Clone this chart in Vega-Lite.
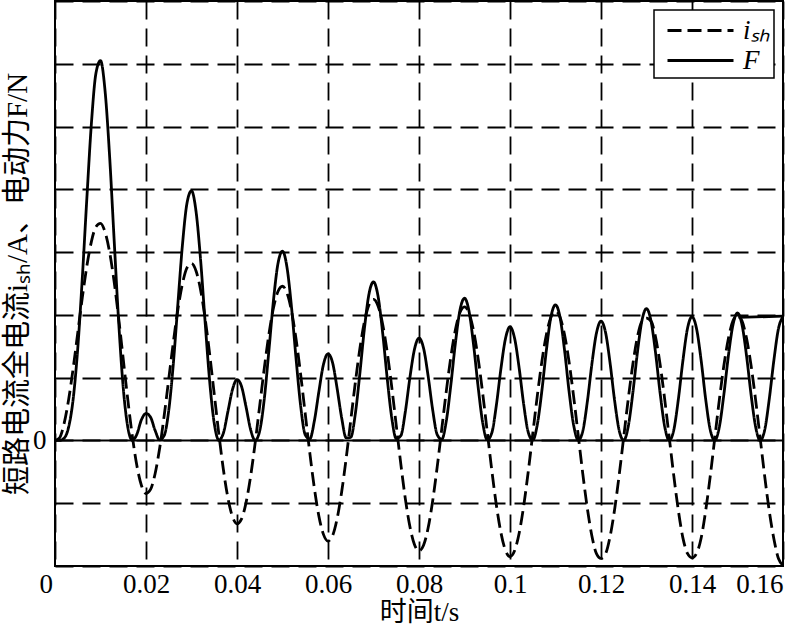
{
 "$schema": "https://vega.github.io/schema/vega-lite/v6.json",
 "width": 728, "height": 565,
 "autosize": {"type": "none"},
 "padding": {"left": 55, "top": 1, "right": 21, "bottom": 66},
 "background": "white",
 "config": {
  "font": "'Liberation Serif', 'Times New Roman', 'Noto Sans CJK SC', serif",
  "view": {"stroke": "black", "strokeWidth": 2},
  "axis": {"labelColor": "black", "titleColor": "black", "labelFontSize": 27, "titleFontSize": 27, "titleFontWeight": "normal", "ticks": false, "domain": false, "grid": true, "gridColor": "black", "gridDash": [18, 9], "gridWidth": 1.8, "gridOpacity": 1},
  "legend": {"orient": "top-right", "offset": 9, "strokeColor": "black", "strokeWidth": 1.5, "fillColor": "white", "padding": 4, "symbolType": "M-2.2,0H2.2", "symbolSize": 900, "symbolOffset": 26, "symbolStrokeWidth": 2.8, "symbolStrokeColor": "black", "symbolFillColor": "transparent", "labelFontSize": 27, "labelFontStyle": "italic", "labelColor": "black", "rowPadding": 0, "labelOffset": 26}
 },
 "layer": [
  {
   "data": {"values": [{}]},
   "mark": {"type": "rule", "color": "black", "strokeWidth": 2},
   "encoding": {"y": {"datum": 0, "type": "quantitative"}}
  },
  {
   "data": {"values": [
    {"t":0,"i":0,"F":0},{"t":0.001,"i":0.042,"F":0.001},{"t":0.002,"i":0.269,"F":0.036},{"t":0.003,"i":0.653,"F":0.213},{"t":0.004,"i":1.152,"F":0.664},{"t":0.005,"i":1.713,"F":1.467},{"t":0.006,"i":2.274,"F":2.586},{"t":0.007,"i":2.777,"F":3.857},{"t":0.008,"i":3.168,"F":5.050},{"t":0.009,"i":3.405,"F":5.850},
    {"t":0.010,"i":3.459,"F":6.050},{"t":0.011,"i":3.321,"F":5.570},{"t":0.012,"i":3.001,"F":4.530},{"t":0.013,"i":2.527,"F":3.192},{"t":0.014,"i":1.940,"F":1.881},{"t":0.015,"i":1.294,"F":0.838},{"t":0.016,"i":0.650,"F":0.211},{"t":0.017,"i":0.066,"F":0.002},{"t":0.018,"i":-0.404,"F":0.100},{"t":0.019,"i":-0.717,"F":0.330},
    {"t":0.020,"i":-0.845,"F":0.430},{"t":0.021,"i":-0.780,"F":0.370},{"t":0.022,"i":-0.530,"F":0.160},{"t":0.023,"i":-0.124,"F":0.008},{"t":0.024,"i":0.397,"F":0.079},{"t":0.025,"i":0.978,"F":0.478},{"t":0.026,"i":1.560,"F":1.217},{"t":0.027,"i":2.083,"F":2.169},{"t":0.028,"i":2.493,"F":3.107},{"t":0.029,"i":2.748,"F":3.776},
    {"t":0.030,"i":2.820,"F":3.977},{"t":0.031,"i":2.700,"F":3.646},{"t":0.032,"i":2.398,"F":2.874},{"t":0.033,"i":1.940,"F":1.881},{"t":0.034,"i":1.369,"F":0.937},{"t":0.035,"i":0.739,"F":0.273},{"t":0.036,"i":0.110,"F":0.006},{"t":0.037,"i":-0.459,"F":0.115},{"t":0.038,"i":-0.914,"F":0.460},{"t":0.039,"i":-1.213,"F":0.810},
    {"t":0.040,"i":-1.328,"F":0.970},{"t":0.041,"i":-1.249,"F":0.860},{"t":0.042,"i":-0.986,"F":0.530},{"t":0.043,"i":-0.567,"F":0.170},{"t":0.044,"i":-0.034,"F":0.001},{"t":0.045,"i":0.559,"F":0.156},{"t":0.046,"i":1.152,"F":0.663},{"t":0.047,"i":1.686,"F":1.422},{"t":0.048,"i":2.107,"F":2.220},{"t":0.049,"i":2.373,"F":2.816},
    {"t":0.050,"i":2.456,"F":3.015},{"t":0.051,"i":2.346,"F":2.751},{"t":0.052,"i":2.053,"F":2.107},{"t":0.053,"i":1.604,"F":1.287},{"t":0.054,"i":1.043,"F":0.544},{"t":0.055,"i":0.422,"F":0.089},{"t":0.056,"i":-0.198,"F":0.022},{"t":0.057,"i":-0.759,"F":0.310},{"t":0.058,"i":-1.206,"F":0.780},{"t":0.059,"i":-1.496,"F":1.210},
    {"t":0.060,"i":-1.603,"F":1.380},{"t":0.061,"i":-1.517,"F":1.240},{"t":0.062,"i":-1.247,"F":0.830},{"t":0.063,"i":-0.821,"F":0.360},{"t":0.064,"i":-0.281,"F":0.040},{"t":0.065,"i":0.319,"F":0.051},{"t":0.066,"i":0.919,"F":0.422},{"t":0.067,"i":1.460,"F":1.065},{"t":0.068,"i":1.887,"F":1.780},{"t":0.069,"i":2.159,"F":2.330},
    {"t":0.070,"i":2.247,"F":2.525},{"t":0.071,"i":2.143,"F":2.297},{"t":0.072,"i":1.856,"F":1.722},{"t":0.073,"i":1.413,"F":0.998},{"t":0.074,"i":0.857,"F":0.367},{"t":0.075,"i":0.241,"F":0.029},{"t":0.076,"i":-0.374,"F":0.075},{"t":0.077,"i":-0.930,"F":0.460},{"t":0.078,"i":-1.372,"F":1.000},{"t":0.079,"i":-1.658,"F":1.450},
    {"t":0.080,"i":-1.760,"F":1.630},{"t":0.081,"i":-1.670,"F":1.470},{"t":0.082,"i":-1.396,"F":1.030},{"t":0.083,"i":-0.965,"F":0.490},{"t":0.084,"i":-0.422,"F":0.093},{"t":0.085,"i":0.182,"F":0.017},{"t":0.086,"i":0.786,"F":0.309},{"t":0.087,"i":1.330,"F":0.885},{"t":0.088,"i":1.761,"F":1.551},{"t":0.089,"i":2.037,"F":2.074},
    {"t":0.090,"i":2.128,"F":2.265},{"t":0.091,"i":2.028,"F":2.056},{"t":0.092,"i":1.743,"F":1.520},{"t":0.093,"i":1.304,"F":0.850},{"t":0.094,"i":0.750,"F":0.282},{"t":0.095,"i":0.138,"F":0.010},{"t":0.096,"i":-0.475,"F":0.120},{"t":0.097,"i":-1.028,"F":0.560},{"t":0.098,"i":-1.467,"F":1.140},{"t":0.099,"i":-1.751,"F":1.620},
    {"t":0.100,"i":-1.850,"F":1.810},{"t":0.101,"i":-1.757,"F":1.630},{"t":0.102,"i":-1.481,"F":1.160},{"t":0.103,"i":-1.048,"F":0.580},{"t":0.104,"i":-0.502,"F":0.133},{"t":0.105,"i":0.104,"F":0.005},{"t":0.106,"i":0.710,"F":0.252},{"t":0.107,"i":1.256,"F":0.789},{"t":0.108,"i":1.689,"F":1.440},{"t":0.109,"i":1.967,"F":1.970},
    {"t":0.110,"i":2.060,"F":2.160},{"t":0.111,"i":1.962,"F":1.960},{"t":0.112,"i":1.679,"F":1.430},{"t":0.113,"i":1.241,"F":0.770},{"t":0.114,"i":0.690,"F":0.238},{"t":0.115,"i":0.079,"F":0.003},{"t":0.116,"i":-0.532,"F":0.150},{"t":0.117,"i":-1.084,"F":0.620},{"t":0.118,"i":-1.521,"F":1.220},{"t":0.119,"i":-1.803,"F":1.710},
    {"t":0.120,"i":-1.880,"F":1.900},{"t":0.121,"i":-1.807,"F":1.720},{"t":0.122,"i":-1.529,"F":1.230},{"t":0.123,"i":-1.095,"F":0.630},{"t":0.124,"i":-0.548,"F":0.158},{"t":0.125,"i":0.059,"F":0.002},{"t":0.126,"i":0.667,"F":0.228},{"t":0.127,"i":1.214,"F":0.760},{"t":0.128,"i":1.648,"F":1.400},{"t":0.129,"i":1.900,"F":1.910},
    {"t":0.130,"i":1.950,"F":2.100},{"t":0.131,"i":1.900,"F":1.900},{"t":0.132,"i":1.643,"F":1.390},{"t":0.133,"i":1.206,"F":0.750},{"t":0.134,"i":0.655,"F":0.222},{"t":0.135,"i":0.045,"F":0.001},{"t":0.136,"i":-0.565,"F":0.168},{"t":0.137,"i":-1.116,"F":0.655},{"t":0.138,"i":-1.552,"F":1.270},{"t":0.139,"i":-1.800,"F":1.780},
    {"t":0.140,"i":-1.870,"F":1.970},{"t":0.141,"i":-1.800,"F":1.780},{"t":0.142,"i":-1.557,"F":1.280},{"t":0.143,"i":-1.122,"F":0.660},{"t":0.144,"i":-0.574,"F":0.172},{"t":0.145,"i":0.034,"F":0.001},{"t":0.146,"i":0.642,"F":0.212},{"t":0.147,"i":1.190,"F":0.730},{"t":0.148,"i":1.625,"F":1.350},{"t":0.149,"i":1.904,"F":1.840},
    {"t":0.150,"i":1.990,"F":2.030},{"t":0.151,"i":1.902,"F":1.840},{"t":0.152,"i":1.622,"F":1.340},{"t":0.153,"i":1.185,"F":0.720},{"t":0.154,"i":0.635,"F":0.210},{"t":0.155,"i":0.026,"F":0.000},{"t":0.156,"i":-0.584,"F":0.175},{"t":0.157,"i":-1.134,"F":0.670},{"t":0.158,"i":-1.570,"F":1.280},{"t":0.159,"i":-1.880,"F":1.780},
    {"t":0.160,"i":-1.990,"F":1.970}
   ]},
   "transform": [{"fold": ["i", "F"], "as": ["series", "value"]}],
   "mark": {"type": "line", "color": "black", "strokeWidth": 2.8, "interpolate": "monotone"},
   "encoding": {
    "x": {"field": "t", "type": "quantitative", "title": "时间t/s",
          "scale": {"domain": [0, 0.16], "nice": false, "zero": false},
          "axis": {"values": [0, 0.02, 0.04, 0.06, 0.08, 0.1, 0.12, 0.14, 0.16], "format": "~g", "labelPadding": 5, "titlePadding": 2, "grid": true,
                   "labelOffset": {"condition": {"test": "datum.value == 0", "value": -16}, "value": 0}}},
    "y": {"field": "value", "type": "quantitative", "title": "短路电流全电流iₛₕ/A、电动力F/N",
          "scale": {"domain": [-2, 7], "nice": false, "zero": false},
          "axis": {"values": [-2, -1, 0, 1, 2, 3, 4, 5, 6, 7], "grid": true, "labelExpr": "datum.value == 0 ? '0' : ''", "labelPadding": 9, "titleFontSize": 29, "titlePadding": 0}},
    "strokeDash": {"field": "series", "type": "nominal", "title": null,
                   "scale": {"domain": ["i", "F"], "range": [[14, 6], [1, 0]]},
                   "legend": {"labelExpr": "datum.label == 'i' ? 'iₛₕ' : 'F'"}}
   }
  },
  {
   "data": {"values": [{"t": 0.1502, "value": 1.96}, {"t": 0.16, "value": 1.98}]},
   "mark": {"type": "line", "color": "black", "strokeWidth": 2.8},
   "encoding": {
    "x": {"field": "t", "type": "quantitative", "title": "时间t/s"},
    "y": {"field": "value", "type": "quantitative", "title": "短路电流全电流iₛₕ/A、电动力F/N"}
   }
  }
 ]
}
